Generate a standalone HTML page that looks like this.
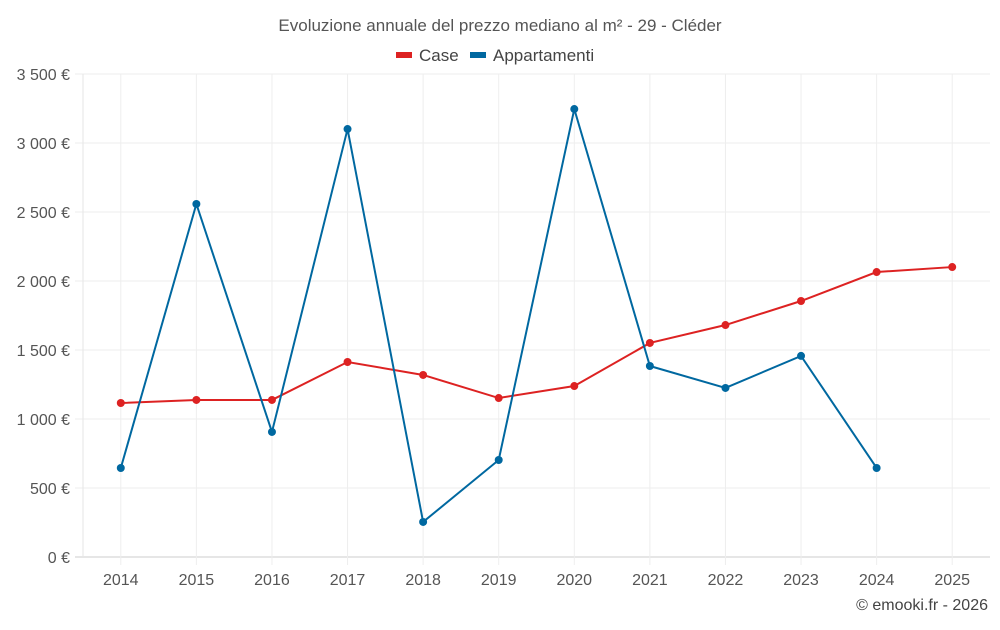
<!DOCTYPE html>
<html><head><meta charset="utf-8"><style>
body{margin:0;background:#fff;font-family:"Liberation Sans",sans-serif;}
svg text{font-family:"Liberation Sans",sans-serif;}
</style></head><body>
<svg id="chart" width="1000" height="625">
<text x="500" y="31" text-anchor="middle" font-size="17" fill="#555">Evoluzione annuale del prezzo mediano al m² - 29 - Cléder</text>
<g>
<g><rect x="396" y="52" width="16" height="6" fill="#dd2222"/><text x="419" y="61" font-size="17" fill="#444">Case</text></g>
<g><rect x="470" y="52" width="16" height="6" fill="#0068a0"/><text x="493" y="61" font-size="17" fill="#444">Appartamenti</text></g>
</g>
<g id="grid"></g><g id="axes"></g><g id="series"></g>
<text x="988" y="610" text-anchor="end" font-size="16" fill="#444">© emooki.fr - 2026</text>
</svg>
<script>
const years=[2014,2015,2016,2017,2018,2019,2020,2021,2022,2023,2024,2025];
const caseVals=[1116,1138,1138,1413,1319,1152,1239,1551,1681,1855,2065,2101];
const appVals=[645,2558,906,3101,254,703,3246,1384,1225,1457,645,null];
const yTicks=[0,500,1000,1500,2000,2500,3000,3500];
const yLabels=["0 €","500 €","1 000 €","1 500 €","2 000 €","2 500 €","3 000 €","3 500 €"];
const L=83,R=990,T=74,B=557,NS="http://www.w3.org/2000/svg";
const bw=(R-L)/years.length;
const x=i=>L+bw*(i+0.5);
const y=v=>B-(v/3500)*(B-T);
function mk(tag,a,p){const e=document.createElementNS(NS,tag);for(const k in a)e.setAttribute(k,a[k]);p.appendChild(e);return e;}
const grid=document.getElementById('grid'),axes=document.getElementById('axes'),ser=document.getElementById('series');
yTicks.forEach((t,i)=>{
 const l=mk('line',{x1:L-8,x2:R,y1:y(t),y2:y(t),stroke:i==0?'#ccc':'#eee'},grid);
 
 
 const tx=mk('text',{x:70,y:y(t)+6,'text-anchor':'end','font-size':16,fill:'#555'},axes);
 tx.textContent=yLabels[i];
 
 
});
const ax=mk('line',{x1:L,x2:L,y1:T,y2:B,stroke:'#e6e6e6'},grid);


years.forEach((yr,i)=>{
 const l=mk('line',{x1:x(i),x2:x(i),y1:T,y2:B+8,stroke:'#eee'},grid);
 
 
 const tx=mk('text',{x:x(i),y:585,'text-anchor':'middle','font-size':16,fill:'#555'},axes);
 tx.textContent=yr;
 
 
});
function draw(vals,color,name){
 const pts=vals.map((v,i)=>v==null?null:[x(i),y(v)]).filter(p=>p);
 const pl=mk('polyline',{points:pts.map(p=>p.join(',')).join(' '),fill:'none',stroke:color,'stroke-width':2},ser);
 
 
 pts.forEach(p=>{
  const c=mk('circle',{cx:p[0],cy:p[1],r:4,fill:color},ser);
  
  
 });
}
draw(caseVals,'#dd2222','case');
draw(appVals,'#0068a0','appartamenti');
</script>
</body></html>
